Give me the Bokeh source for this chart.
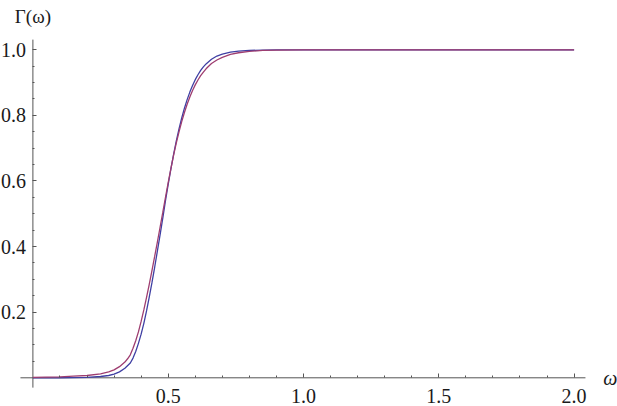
from bokeh.plotting import figure
from bokeh.models import Range1d, FixedTicker, Label, LinearAxis, NumeralTickFormatter
from bokeh.embed import file_html
from bokeh.resources import INLINE

# --- data ---
omega_blue = [0.00, 0.10, 0.15, 0.20, 0.25, 0.28, 0.30, 0.32, 0.34, 0.36, 0.37, 0.38, 0.39,
              0.40, 0.41, 0.42, 0.43, 0.44, 0.45, 0.46, 0.47, 0.48, 0.49, 0.50, 0.51,
              0.52, 0.53, 0.54, 0.55, 0.56, 0.57, 0.58, 0.59, 0.60, 0.61, 0.62, 0.63,
              0.64, 0.66, 0.68, 0.70, 0.73, 0.76, 0.80, 0.85, 0.90, 1.00, 1.50, 2.00]
gamma_blue = [0.0, 0.0002, 0.0006, 0.0015, 0.004, 0.007, 0.011, 0.018, 0.029, 0.045, 0.06, 0.08, 0.105,
              0.133, 0.166, 0.204, 0.246, 0.29, 0.337, 0.386, 0.436, 0.487, 0.54, 0.59, 0.637,
              0.681, 0.722, 0.759, 0.792, 0.822, 0.848, 0.871, 0.891, 0.909, 0.924, 0.937, 0.948,
              0.957, 0.971, 0.981, 0.987, 0.993, 0.996, 0.998, 0.9993, 0.9998, 1.0, 1.0, 1.0]

omega_red = [0.00, 0.05, 0.10, 0.15, 0.20, 0.25, 0.28, 0.30, 0.32, 0.34, 0.35, 0.36, 0.37,
             0.38, 0.39, 0.40, 0.41, 0.42, 0.43, 0.44, 0.45, 0.46, 0.47, 0.48, 0.49,
             0.50, 0.51, 0.52, 0.53, 0.54, 0.55, 0.56, 0.57, 0.58, 0.59, 0.60, 0.61,
             0.62, 0.63, 0.64, 0.66, 0.68, 0.70, 0.73, 0.76, 0.80, 0.85, 0.90, 1.00,
             1.50, 2.00]
gamma_red = [0.001, 0.002, 0.003, 0.005, 0.007, 0.012, 0.018, 0.024, 0.034, 0.048, 0.058, 0.07, 0.09,
             0.113, 0.14, 0.172, 0.207, 0.245, 0.285, 0.327, 0.37, 0.414, 0.459, 0.504, 0.55,
             0.595, 0.638, 0.679, 0.716, 0.75, 0.781, 0.809, 0.834, 0.856, 0.876, 0.893, 0.908,
             0.921, 0.932, 0.942, 0.958, 0.969, 0.977, 0.986, 0.991, 0.995, 0.998, 0.999, 0.9998,
             1.0, 1.0]

x_ticks = [0.5, 1.0, 1.5, 2.0]
x_tick_labels = ["0.5", "1.0", "1.5", "2.0"]
x_minor_ticks = [0.1, 0.2, 0.3, 0.4, 0.6, 0.7, 0.8, 0.9, 1.1, 1.2, 1.3, 1.4,
                 1.6, 1.7, 1.8, 1.9]
y_ticks = [0.2, 0.4, 0.6, 0.8, 1.0]
y_tick_labels = ["0.2", "0.4", "0.6", "0.8", "1.0"]
y_minor_ticks = [0.05, 0.1, 0.15, 0.25, 0.3, 0.35, 0.45, 0.5, 0.55, 0.65, 0.7, 0.75,
                 0.85, 0.9, 0.95]

# extent of the drawn axis lines (plot range of the original)
x_axis_extent = [-0.046, 2.042]
y_axis_extent = [-0.030, 1.031]

BLUE = "#3f3fa3"
RED = "#9e3d70"
AXIS = "#555555"
TEXT = "#1a1a1a"
FONT = "Liberation Serif"

p = figure(width=617, height=406,
           x_range=Range1d(-0.1197, 2.1604), y_range=Range1d(-0.0875, 1.1503),
           output_backend="svg", toolbar_location=None,
           x_axis_type=None, y_axis_type=None,
           min_border_left=0, min_border_right=0,
           min_border_top=0, min_border_bottom=0)
p.grid.visible = False
p.outline_line_color = None
p.background_fill_color = "white"
p.border_fill_color = "white"

def style_axis(ax):
    ax.axis_line_color = None
    ax.major_tick_line_color = AXIS
    ax.minor_tick_line_color = AXIS
    ax.major_tick_in = 4
    ax.major_tick_out = 0
    ax.minor_tick_in = 2
    ax.minor_tick_out = 0
    ax.major_label_text_font = FONT
    ax.major_label_text_font_size = "20px"
    ax.major_label_text_color = TEXT
    ax.formatter = NumeralTickFormatter(format="0.0")

xa = LinearAxis(fixed_location=0,
                ticker=FixedTicker(ticks=x_ticks, minor_ticks=x_minor_ticks),
                major_label_overrides=dict(zip(x_ticks, x_tick_labels)))
style_axis(xa)
xa.major_label_standoff = 11
p.add_layout(xa, "below")

ya = LinearAxis(fixed_location=0,
                ticker=FixedTicker(ticks=y_ticks, minor_ticks=y_minor_ticks),
                major_label_overrides=dict(zip(y_ticks, y_tick_labels)))
style_axis(ya)
ya.major_label_standoff = 7
p.add_layout(ya, "left")

# axis lines of the original plot range
p.segment(x0=[x_axis_extent[0], 0], y0=[0, y_axis_extent[0]],
          x1=[x_axis_extent[1], 0], y1=[0, y_axis_extent[1]],
          line_color=AXIS, line_width=1)

p.line(omega_blue, gamma_blue, line_color=BLUE, line_width=1.3)
p.line(omega_red, gamma_red, line_color=RED, line_width=1.3)

p.add_layout(Label(x=0, y=1.1015, text="Γ(ω)", text_align="center",
                   text_baseline="middle", text_font=FONT,
                   text_font_size="19px", text_color=TEXT))
p.add_layout(Label(x=2.108, y=0.0, text="ω", text_align="left",
                   text_baseline="middle", text_font=FONT, text_font_style="italic",
                   text_font_size="20px", text_color=TEXT))

open("out.html", "w").write(file_html(p, INLINE))
